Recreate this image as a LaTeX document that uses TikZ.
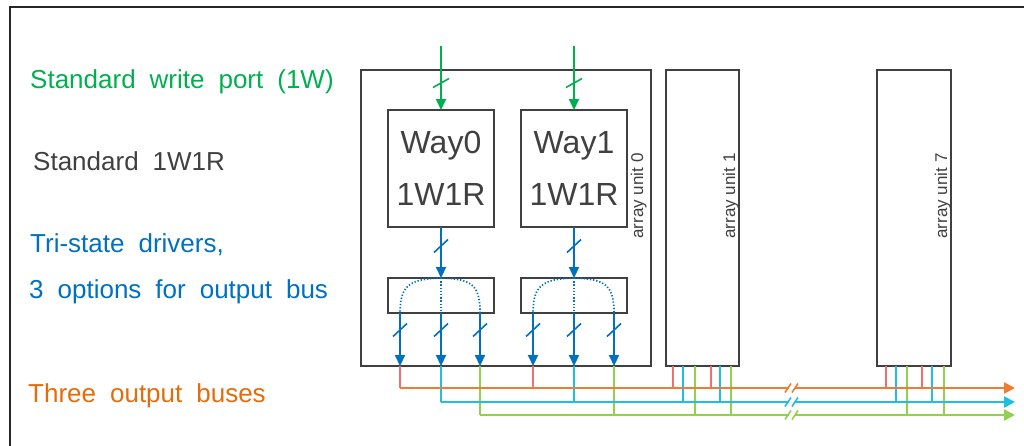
\documentclass[tikz,border=0pt]{standalone}
\usepackage{fontspec}
\setmainfont{Liberation Sans}
\usetikzlibrary{arrows.meta}

\definecolor{wgreen}{HTML}{00B050}
\definecolor{dblue}{HTML}{0070C0}
\definecolor{txtgray}{HTML}{404040}
\definecolor{borange}{HTML}{ED7D31}
\definecolor{torange}{HTML}{E46C0A}
\definecolor{tred}{HTML}{F07070}
\definecolor{bcyan}{HTML}{1FBFE0}
\definecolor{bgreen}{HTML}{92D050}

% wide word spacing of the side labels
\newcommand{\labelfont}{\fontsize{26}{30}\selectfont\spaceskip=14pt plus 1pt\relax}
% short slash across a signal line: colour, x, y, dx, dy
\newcommand{\sigslash}[5]{\draw[#1, line width=1.6pt] (#2-#4,#3+#5) -- (#2+#4,#3-#5);}
% break mark on a bus: colour, y
\newcommand{\busbreak}[2]{%
  \fill[white] (789,#2-2.5) rectangle (795,#2+2.5);
  \draw[#1, line width=1.6pt] (785,#2+4.5) -- (791,#2-4.5);
  \draw[#1, line width=1.6pt] (792,#2+4.5) -- (798,#2-4.5);}

\tikzset{
  blk/.style={draw=txtgray, line width=1.9pt, inner sep=0pt, outer sep=0pt},
  lbl/.style={anchor=base west, inner sep=0pt, font=\labelfont},
  unitlbl/.style={rotate=90, anchor=base, inner sep=0pt, text=txtgray, font=\fontsize{17}{20}\selectfont},
  warrow/.style={wgreen, line width=1.9pt, -{Triangle[length=11pt,width=10pt]}},
  barrow/.style={dblue, line width=2.1pt, -{Triangle[length=11pt,width=10pt]}},
  dotline/.style={dblue, line width=1.7pt, dash pattern=on 1.3pt off 1.9pt},
  tap/.style={line width=1.9pt},
  bus/.style={line width=2.3pt, -{Triangle[length=11pt,width=11pt]}}
}

\begin{document}
\begin{tikzpicture}[x=1pt, y=-1pt]
\useasboundingbox (0,0) rectangle (1024,445);

% frame
\draw[line width=2.8pt, black!85] (10,447) -- (10,7) -- (1026,7);

% left labels
\node[lbl, text=wgreen] (lwrite) at (30,88) {Standard write port (1W)};
\node[lbl, text=txtgray] (lstd) at (33,170) {Standard 1W1R};
\node[lbl, text=dblue] (ltri) at (30,252) {Tri-state drivers,};
\node[lbl, text=dblue] (lopt) at (29,298) {3 options for output bus};
\node[lbl, text=torange] (lbus) at (28,402) {Three output buses};

% array units
\node[blk, minimum width=290pt, minimum height=296pt] (unit0) at (506,218) {};
\node[blk, minimum width=73pt, minimum height=296pt] (unit1) at (702.5,218) {};
\node[blk, minimum width=74pt, minimum height=296pt] (unit7) at (914,218) {};
\node[unitlbl] (lab0) at (643,196) {array unit 0};
\node[unitlbl] (lab1) at (735,196) {array unit 1};
\node[unitlbl] (lab7) at (947,196) {array unit 7};

% ways and tri-state drivers
\node[blk, minimum width=106pt, minimum height=117pt, align=center, text=txtgray,
  font=\fontsize{32}{52}\selectfont] (way0) at (441,168.5) {Way0\\1W1R};
\node[blk, minimum width=106pt, minimum height=117pt, align=center, text=txtgray,
  font=\fontsize{32}{52}\selectfont] (way1) at (574,168.5) {Way1\\1W1R};
\node[blk, minimum width=106pt, minimum height=35pt] (tri0) at (441,295.5) {};
\node[blk, minimum width=106pt, minimum height=35pt] (tri1) at (574,295.5) {};

% write ports
\coordinate (win0) at (441,46);
\coordinate (win1) at (574,46);
\draw[warrow] (win0) -- (way0.north);
\draw[warrow] (win1) -- (way1.north);
\sigslash{wgreen}{441}{83}{8}{4.5}
\sigslash{wgreen}{574}{83}{8}{4.5}

% read ports into drivers
\draw[barrow] (way0.south) -- (tri0.north);
\draw[barrow] (way1.south) -- (tri1.north);
\sigslash{dblue}{441}{246}{7}{6.5}
\sigslash{dblue}{574}{246}{7}{6.5}

% driver options
\draw[dotline] (tri0.north) .. controls (410,279) and (400,285) .. (400,313);
\draw[dotline] (tri0.north) -- (tri0.south);
\draw[dotline] (tri0.north) .. controls (472,279) and (480,285) .. (480,313);
\draw[dotline] (tri1.north) .. controls (543,279) and (533,285) .. (533,313);
\draw[dotline] (tri1.north) -- (tri1.south);
\draw[dotline] (tri1.north) .. controls (605,279) and (614,285) .. (614,313);
\foreach \x in {400,441,480} {
  \draw[barrow] (\x,0 |- tri0.south) -- (\x,0 |- unit0.south);
  \sigslash{dblue}{\x}{330}{7}{6.5}
}
\foreach \x in {533,574,614} {
  \draw[barrow] (\x,0 |- tri1.south) -- (\x,0 |- unit0.south);
  \sigslash{dblue}{\x}{330}{7}{6.5}
}

% output buses
\coordinate (ob) at (400,388);
\coordinate (cb) at (441,402);
\coordinate (gb) at (480,415);
\coordinate (obend) at (1015,388);
\coordinate (cbend) at (1015,402);
\coordinate (gbend) at (1015,415);

\foreach \x/\c/\b in {400/tred/ob, 441/bcyan/cb, 480/bgreen/gb, 533/tred/ob, 574/bcyan/cb, 614/bgreen/gb}
  \draw[tap, \c] (\x,0 |- unit0.south) -- (\x,0 |- \b);
\foreach \x/\c/\b in {673/tred/ob, 683/bcyan/cb, 695/bgreen/gb, 711/tred/ob, 720/bcyan/cb, 731/bgreen/gb}
  \draw[tap, \c] (\x,0 |- unit1.south) -- (\x,0 |- \b);
\foreach \x/\c/\b in {886/tred/ob, 896/bcyan/cb, 907/bgreen/gb, 922/tred/ob, 932/bcyan/cb, 944/bgreen/gb}
  \draw[tap, \c] (\x,0 |- unit7.south) -- (\x,0 |- \b);

\draw[bus, borange] (ob) -- (obend);
\draw[bus, bcyan] (cb) -- (cbend);
\draw[bus, bgreen] (gb) -- (gbend);
\busbreak{borange}{388}
\busbreak{bcyan}{402}
\busbreak{bgreen}{415}
\end{tikzpicture}
\end{document}
